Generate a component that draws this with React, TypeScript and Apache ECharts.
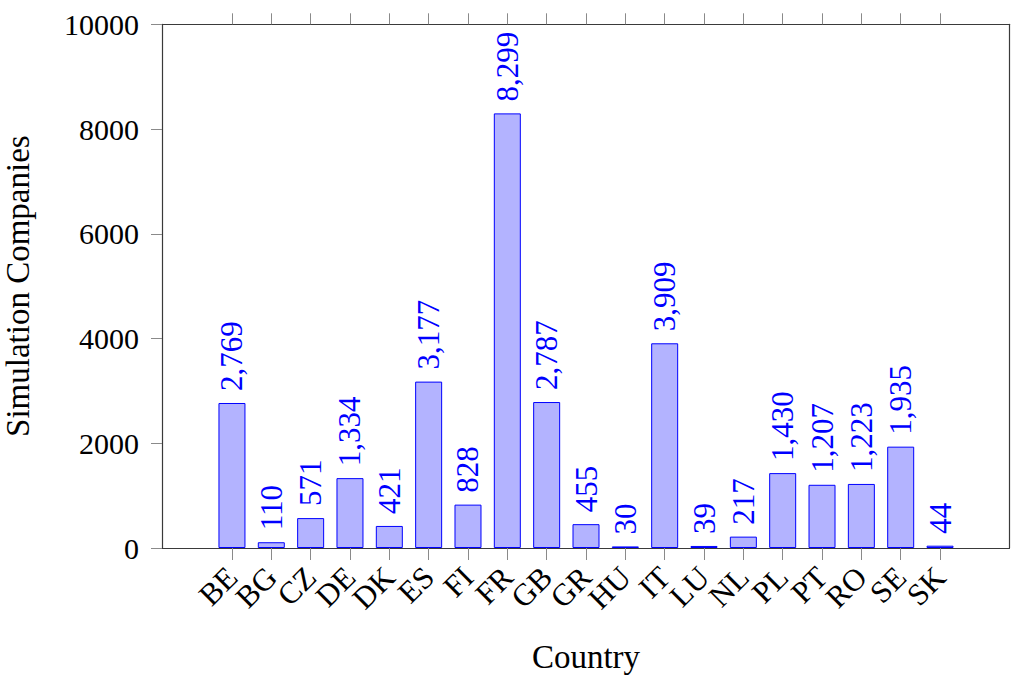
import React, { useEffect, useRef } from "react";
import * as echarts from "echarts";

const countries = ["BE", "BG", "CZ", "DE", "DK", "ES", "FI", "FR", "GB", "GR", "HU", "IT", "LU", "NL", "PL", "PT", "RO", "SE", "SK"];
const companies = [2769, 110, 571, 1334, 421, 3177, 828, 8299, 2787, 455, 30, 3909, 39, 217, 1430, 1207, 1223, 1935, 44];
const yMin = 0;
const yMax = 10000;
const yStep = 2000;

const FONT = "Liberation Serif";

export default function App() {
  const ref = useRef<HTMLDivElement>(null);
  useEffect(() => {
    if (!ref.current) return;
    const chart = echarts.init(ref.current, null, { renderer: "svg" });
    const axisLineColor = "#3a3a3a";
    const tickColor = "#8a8a8a";
    const gridTop = 24.3;
    const gridBottom = 129;
    const frameLine = { show: true, onZero: false, lineStyle: { color: axisLineColor, width: 1.2 } };
    chart.setOption({
      animation: false,
      textStyle: { fontFamily: FONT },
      grid: [
        { left: 162, right: 1.5, top: gridTop, bottom: gridBottom, containLabel: false, outerBoundsMode: "none" },
        { left: 212.3, right: 51.3, top: gridTop, bottom: gridBottom, containLabel: false, outerBoundsMode: "none" },
      ],
      xAxis: [
        {
          type: "value", gridIndex: 0, position: "bottom", min: 0, max: 1,
          axisLine: frameLine,
          axisTick: { show: false }, axisLabel: { show: false }, splitLine: { show: false },
        },
        {
          type: "value", gridIndex: 0, position: "top", min: 0, max: 1,
          axisLine: frameLine,
          axisTick: { show: false }, axisLabel: { show: false }, splitLine: { show: false },
        },
        {
          type: "category", gridIndex: 1, position: "bottom", data: countries,
          axisLine: { show: false, onZero: false },
          axisTick: { show: true, alignWithLabel: true, inside: false, length: 12, lineStyle: { color: tickColor, width: 1 } },
          axisLabel: { rotate: 45, margin: 24, fontSize: 31, color: "#000", fontFamily: FONT, interval: 0 },
          name: "Country", nameLocation: "middle", nameGap: 92,
          nameTextStyle: { fontSize: 33, color: "#000", fontFamily: FONT },
        },
        {
          type: "category", gridIndex: 1, position: "top", data: countries,
          axisLine: { show: false, onZero: false },
          axisTick: { show: true, alignWithLabel: true, inside: false, length: 11, lineStyle: { color: tickColor, width: 1 } },
          axisLabel: { show: false },
        },
      ],
      yAxis: [
        {
          type: "value", gridIndex: 0, position: "left", min: yMin, max: yMax, interval: yStep,
          axisLine: frameLine,
          axisTick: { show: true, inside: false, length: 11, lineStyle: { color: tickColor, width: 1 } },
          axisLabel: { margin: 23, fontSize: 30, color: "#000", fontFamily: FONT, formatter: (v: number) => String(v) },
          splitLine: { show: false },
          name: "Simulation Companies", nameLocation: "middle", nameGap: 128,
          nameTextStyle: { fontSize: 33, color: "#000", fontFamily: FONT },
        },
        {
          type: "value", gridIndex: 0, position: "right", min: yMin, max: yMax, interval: yStep,
          axisLine: frameLine,
          axisTick: { show: false }, axisLabel: { show: false }, splitLine: { show: false },
        },
        {
          type: "value", gridIndex: 1, min: yMin, max: yMax, interval: yStep, show: false,
        },
      ],
      series: [
        {
          type: "bar",
          xAxisIndex: 2,
          yAxisIndex: 2,
          data: companies,
          barWidth: 27,
          itemStyle: { color: "#b3b3ff", borderColor: "#0000ff", borderWidth: 1 },
          label: {
            show: true,
            position: "top",
            distance: 12,
            rotate: 90,
            align: "left",
            verticalAlign: "middle",
            fontSize: 31,
            color: "#0000ff",
            fontFamily: FONT,
            formatter: (p: any) => "{v|" + Number(p.value).toLocaleString("en-US") + "}",
            rich: {
              v: { fontFamily: FONT, fontSize: 31, color: "#0000ff" },
            },
          },
        },
      ],
    });
    return () => chart.dispose();
  }, []);
  return <div ref={ref} style={{ width: 1011, height: 677, position: "absolute", left: 0, top: 0 }} />;
}
